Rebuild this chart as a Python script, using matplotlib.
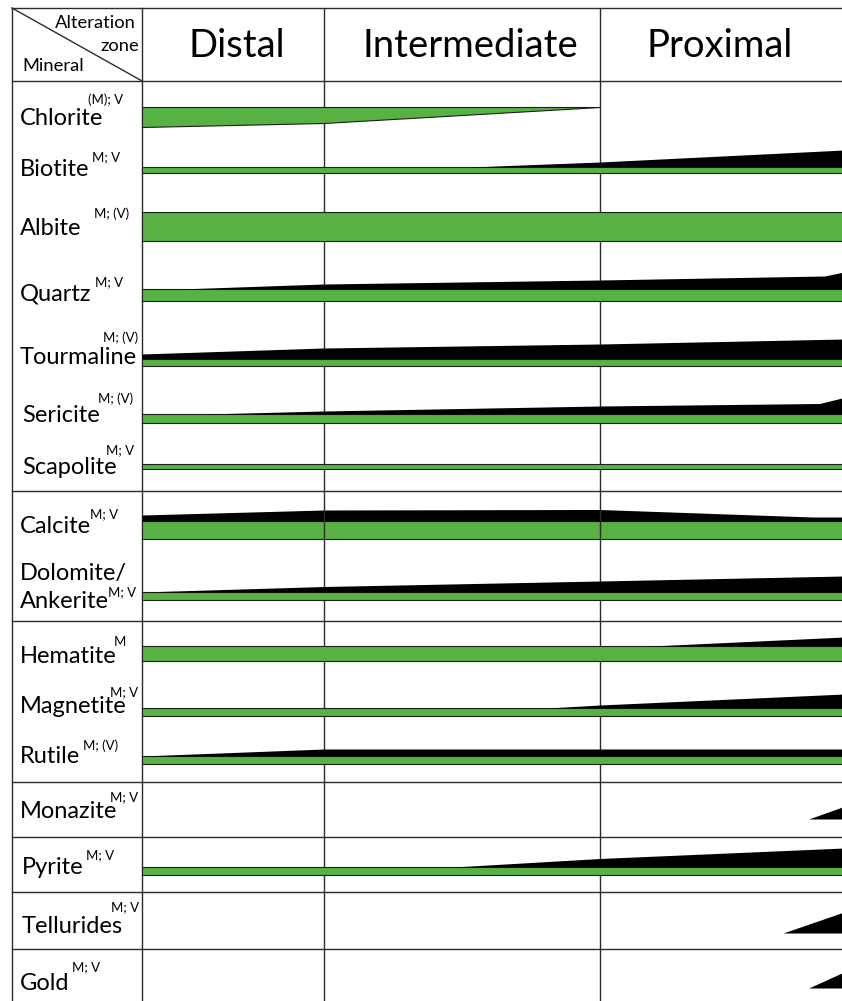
import numpy as np
import matplotlib
matplotlib.use("Agg")
import matplotlib.pyplot as plt

plt.rcParams['font.family'] = ['Lato', 'DejaVu Sans']

# ---------------- data ----------------
zones = ["Distal", "Intermediate", "Proximal"]

minerals = ["Chlorite", "Biotite", "Albite", "Quartz", "Tourmaline", "Sericite",
            "Scapolite", "Calcite", "Dolomite/\nAnkerite", "Hematite", "Magnetite",
            "Rutile", "Monazite", "Pyrite", "Tellurides", "Gold"]
occurrence = ["(M); V", "M; V", "M; (V)", "M; V", "M; (V)", "M; (V)", "M; V", "M; V",
              "M; V", "M", "M; V", "M; (V)", "M; V", "M; V", "M; V", "M; V"]

# abundance profiles, x in zone units (0-1 distal, 1-2 intermediate, 2-3 proximal)
# green = matrix replacement, black = veins
green_x = [[0, 1, 2], [0, 3], [0, 3], [0, 3], [0, 3], [0, 3], [0, 3], [0, 3], [0, 3],
           [0, 3], [0, 3], [0, 3], [], [0, 3], [], []]
green_w = [[20, 16, 0], [6, 6], [29, 29], [12, 12], [7, 7], [9, 9], [5, 5], [18, 18], [8, 8],
           [15, 15], [8, 8], [8, 8], [], [8, 8], [], []]
black_x = [[], [1.53, 2, 3], [], [0.21, 1, 2, 2.92, 3], [0, 1, 2, 3], [0.35, 1, 2, 2.9, 3],
           [], [0, 1, 2, 2.87, 3], [0, 1, 2, 3], [2.21, 3], [1.81, 2, 3], [0, 1, 2, 3],
           [2.855, 3], [1.47, 2, 3], [2.75, 3], [2.855, 3]]
black_w = [[], [0, 5, 17], [], [0, 5, 9, 13, 17], [5, 11, 15, 20], [0, 3, 8, 10.5, 16.5],
           [], [6, 11, 11.5, 4, 4], [0, 5.5, 11, 16], [0, 9], [0, 3, 14], [0, 7, 7, 7],
           [0, 12.6], [0, 8.5, 19], [0, 21], [0, 16]]

# ---------------- layout (pixels) ----------------
W, H = 842, 1001
zone_px = [0, 182, 458, 702]     # zone edges, measured from mineral column
header_cx = [237, 470, 720]
row_base = [107, 173, 241, 301, 366, 423, 469, 539, 600, 661, 716, 764, 819, 875, 933, 988]
label_x = [20, 20, 20, 20, 20, 22, 22, 20, 20, 20, 20, 20, 20, 22, 22, 20]
label_y = [125, 176, 235, 300, 364, 422, 474, 533, 580, 663, 713, 763, 818, 874, 933, 990]
sup_x = [88, 92, 94, 95, 103, 98, 106, 90, 108, 114, 110, 83, 110, 86, 111, 72]
sup_y = [104, 161, 218, 286, 342, 403, 454, 518, 596, 646, 696, 750, 801, 859, 911, 971]
section_y = [491, 621, 782, 837, 892, 949]

green = '#57b143'
lc = '#2b2b2b'

fig = plt.figure(figsize=(W / 100, H / 100), dpi=100)
tab = fig.add_axes([0, 0, 1, 1])
tab.set_xlim(0, W)
tab.set_ylim(H, 0)
tab.axis('off')

ax = fig.add_axes([142 / W, 0, zone_px[-1] / W, 1])
fwd = lambda x: np.interp(x, [0, 1, 2, 3], zone_px)
inv = lambda p: np.interp(p, zone_px, [0, 1, 2, 3])
ax.set_xscale('function', functions=(fwd, inv))
ax.set_xlim(0, 3)
ax.set_ylim(H, 0)
ax.axis('off')
ax.patch.set_visible(False)

# table frame
tab.plot([12, W], [8, 8], color=lc, lw=1.0)
tab.plot([12, W], [81, 81], color=lc, lw=1.0)
for y in section_y:
    tab.plot([12, W], [y, y], color=lc, lw=1.0)
tab.plot([12, 12], [8, H], color=lc, lw=1.0)
tab.plot([142, 142], [8, H], color=lc, lw=1.0)
tab.plot([12, 142], [8, 81], color=lc, lw=1.0)
ax.vlines([1, 2], 8, H, color=lc, lw=1.0, zorder=2)

# header
for name, cx in zip(zones, header_cx):
    tab.text(cx, 57, name, fontsize=27.5, ha='center', va='baseline')
tab.text(136, 28, "Alteration", fontsize=13.2, ha='right', va='baseline')
tab.text(139, 51, "zone", fontsize=13.2, ha='right', va='baseline')
tab.text(22, 71, "Mineral", fontsize=13.2, ha='left', va='baseline')

for i, name in enumerate(minerals):
    for k, line in enumerate(name.split("\n")):
        tab.text(label_x[i], label_y[i] + 28 * k, line, fontsize=17, va='baseline')
    tab.text(sup_x[i], sup_y[i], occurrence[i], fontsize=9.5, va='baseline')

    z = 1 if name == "Calcite" else 3   # calcite sits under the grid
    base = row_base[i]
    gx = np.array(green_x[i], dtype=float)
    gw = np.array(green_w[i], dtype=float)
    if len(gx):
        if name == "Chlorite":   # hangs from a flat top edge
            ax.fill_between(gx, base, base + gw, facecolor=green, edgecolor='#1e1e1e',
                            lw=0.8, zorder=z)
        else:
            ax.fill_between(gx, base - gw, base, facecolor=green, edgecolor='#1e1e1e',
                            lw=0.8, zorder=z)
    if black_x[i]:
        bx = np.array(black_x[i], dtype=float)
        bw = np.array(black_w[i], dtype=float)
        top = base - np.interp(bx, gx, gw) if len(gx) else base
        ax.fill_between(bx, top - bw, top, color='black', lw=0, zorder=z + 0.1)

fig.savefig("out.png", dpi=100)
